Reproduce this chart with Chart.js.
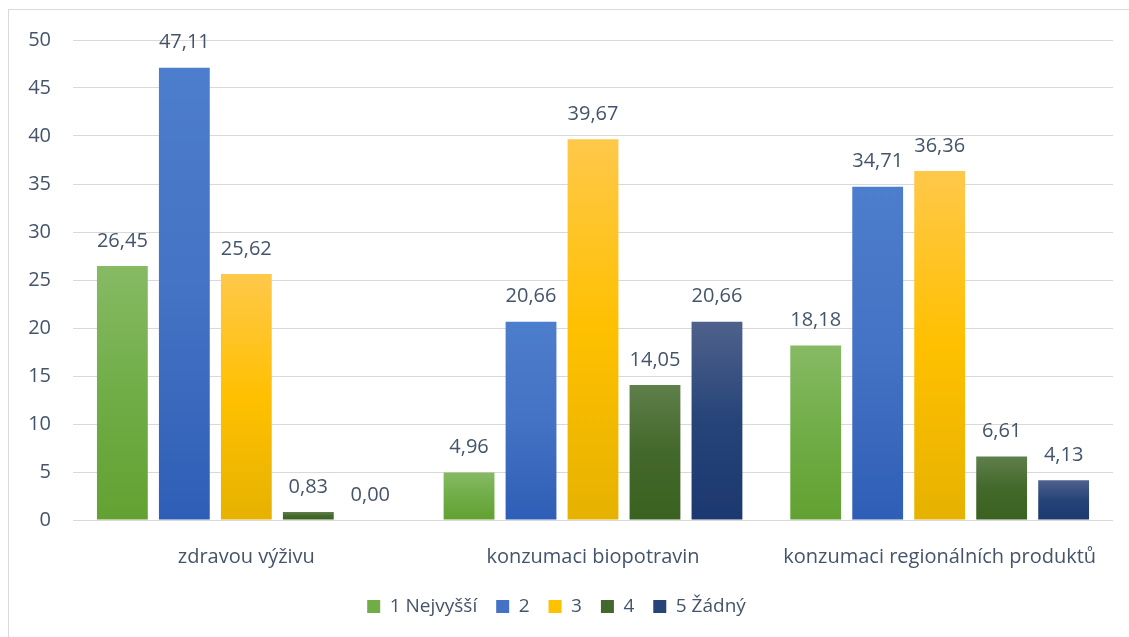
<!DOCTYPE html>
<html>
<head>
<meta charset="utf-8">
<script src="https://cdn.jsdelivr.net/npm/chart.js@4.4.0/dist/chart.umd.min.js"></script>
<style>
  html, body { margin: 0; padding: 0; background: #fff; }
  #wrap { position: relative; width: 1129px; height: 637px; overflow: hidden; }
  #frame { position: absolute; left: 8px; top: 9px; width: 1200px; height: 700px;
           border-left: 1px solid #d9d9d9; border-top: 1px solid #d9d9d9; }
  canvas { position: absolute; left: 0; top: 0; }
</style>
</head>
<body>
<div id="wrap">
  <div id="frame"></div>
  <canvas id="chart" width="1129" height="637"></canvas>
</div>
<script>
// Kategorie a hodnoty
const categories = ['zdravou výživu', 'konzumaci biopotravin', 'konzumaci regionálních produktů'];
const seriesNames = ['1 Nejvyšší', '2', '3', '4', '5 Žádný'];
const s1 = [26.45, 4.96, 18.18];
const s2 = [47.11, 20.66, 34.71];
const s3 = [25.62, 39.67, 36.36];
const s4 = [0.83, 14.05, 6.61];
const s5 = [0.00, 20.66, 4.13];
const yTicks = [0, 5, 10, 15, 20, 25, 30, 35, 40, 45, 50];

// barvy: horní, střední, spodní (přechod jako v Excelu)
const palette = [
  ['#86ba64', '#70ad47', '#62a131'],
  ['#4d7dcd', '#4472c4', '#2e5eb6'],
  ['#ffc84a', '#ffc000', '#e6b200'],
  ['#5f7f4b', '#43682b', '#3a621f'],
  ['#4f618c', '#264478', '#1c3870']
];

const textColor = '#44546a';
const fontFamily = '"Open Sans", "Noto Sans", sans-serif';

function gradientFor(idx) {
  return function (ctx) {
    const chart = ctx.chart;
    if (!chart.chartArea || ctx.type !== 'data') return palette[idx][1];
    const y = chart.scales.y;
    const v = ctx.raw;
    const top = y.getPixelForValue(v);
    const bottom = y.getPixelForValue(0);
    if (bottom - top < 1) return palette[idx][1];
    const g = chart.ctx.createLinearGradient(0, top, 0, bottom);
    g.addColorStop(0, palette[idx][0]);
    g.addColorStop(0.5, palette[idx][1]);
    g.addColorStop(1, palette[idx][2]);
    return g;
  };
}

const allSeries = [s1, s2, s3, s4, s5];
const datasets = allSeries.map((data, i) => ({
  label: seriesNames[i],
  data: data,
  backgroundColor: gradientFor(i),
  legendColor: palette[i][1],
  borderWidth: 0,
  barPercentage: 0.82,
  categoryPercentage: 0.894
}));

// popisky hodnot nad sloupci
const valueLabels = {
  id: 'valueLabels',
  afterDatasetsDraw(chart) {
    const ctx = chart.ctx;
    ctx.save();
    ctx.font = '20px ' + fontFamily;
    ctx.fillStyle = textColor;
    ctx.textAlign = 'center';
    ctx.textBaseline = 'middle';
    chart.data.datasets.forEach((ds, i) => {
      const meta = chart.getDatasetMeta(i);
      meta.data.forEach((bar, j) => {
        const txt = ds.data[j].toFixed(2).replace('.', ',');
        ctx.fillText(txt, bar.x, bar.y - 25);
      });
    });
    ctx.restore();
  }
};

new Chart(document.getElementById('chart'), {
  type: 'bar',
  data: { labels: categories, datasets: datasets },
  options: {
    responsive: false,
    animation: false,
    layout: { padding: { top: 40, right: 16, bottom: 11, left: 0 } },
    plugins: {
      legend: {
        position: 'bottom',
        labels: {
          color: textColor,
          font: { family: fontFamily, size: 19 },
          boxWidth: 13,
          boxHeight: 13,
          padding: 19,
          generateLabels(chart) {
            return chart.data.datasets.map((ds, i) => ({
              text: ds.label,
              fillStyle: ds.legendColor,
              strokeStyle: ds.legendColor,
              lineWidth: 0,
              fontColor: textColor,
              datasetIndex: i,
              hidden: false
            }));
          }
        }
      },
      tooltip: { enabled: false }
    },
    scales: {
      x: {
        grid: { display: false },
        border: { display: false },
        ticks: { color: textColor, font: { family: fontFamily, size: 20 }, padding: 17 },
        afterFit(scale) { scale.height = 58; }
      },
      y: {
        min: 0,
        max: 50,
        afterBuildTicks(scale) { scale.ticks = yTicks.map(v => ({ value: v })); },
        grid: { color: '#d9d9d9', lineWidth: 1, drawTicks: false },
        border: { display: false },
        ticks: { color: textColor, font: { family: fontFamily, size: 20 }, padding: 22 },
        afterFit(scale) { scale.width = 73; }
      }
    }
  },
  plugins: [valueLabels]
});
</script>
</body>
</html>
